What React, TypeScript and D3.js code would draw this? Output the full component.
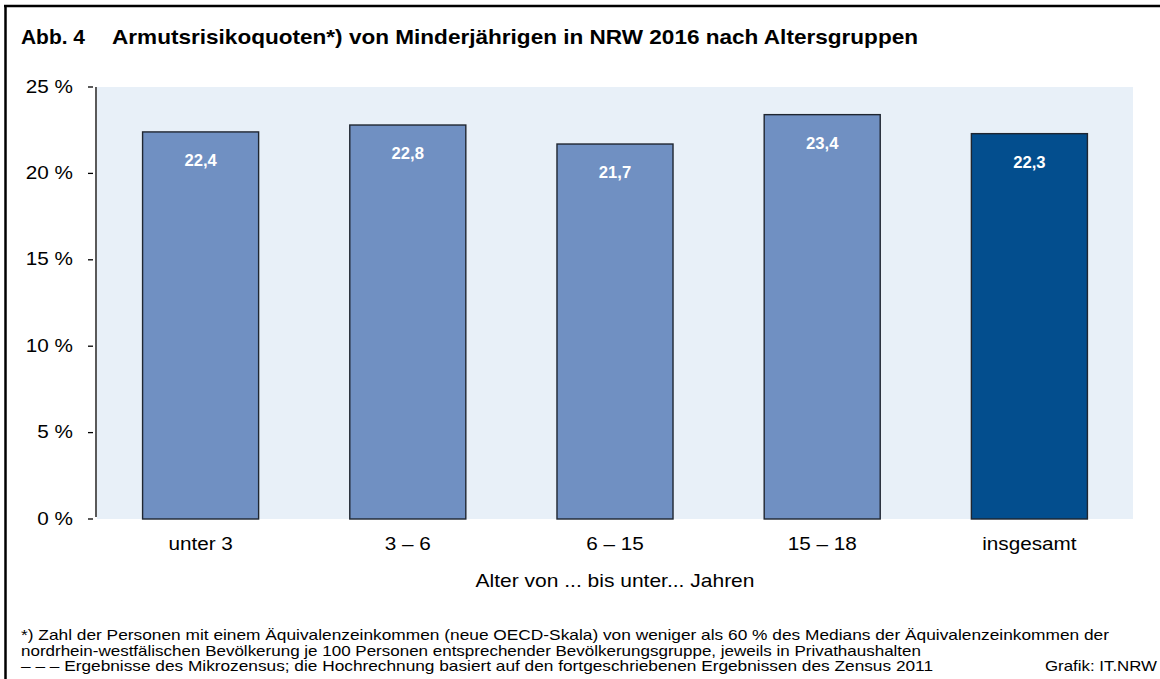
import React, { useEffect, useRef } from 'react';
import * as d3 from 'd3';

// Altersgruppen (Alter von ... bis unter ... Jahren)
const categories = ['unter 3', '3 – 6', '6 – 15', '15 – 18', 'insgesamt'];
// Armutsrisikoquoten in %
const values = [22.4, 22.8, 21.7, 23.4, 22.3];
const valueLabels = ['22,4', '22,8', '21,7', '23,4', '22,3'];
const yTicks = [0, 5, 10, 15, 20, 25];

const footnotes = [
  '*) Zahl der Personen mit einem Äquivalenzeinkommen (neue OECD-Skala) von weniger als 60 % des Medians der Äquivalenzeinkommen der',
  'nordrhein-westfälischen Bevölkerung je 100 Personen entsprechender Bevölkerungsgruppe, jeweils in Privathaushalten',
  '– – – Ergebnisse des Mikrozensus; die Hochrechnung basiert auf den fortgeschriebenen Ergebnissen des Zensus 2011',
];
// widths the footnote lines take in the original
const footnoteWidths = [1088, 900, 912];

const W = 1160;
const H = 679;
const FONT = '"Liberation Sans", Arial, sans-serif';
const SX = 1.12; // the original text runs a bit wider than it is tall

function BarChart() {
  const ref = useRef<SVGSVGElement>(null);

  useEffect(() => {
    const svg = d3.select(ref.current);
    svg.selectAll('*').remove();

    const margin = { top: 87, right: 27, bottom: 160, left: 97 };
    const width = W - margin.left - margin.right;
    const height = H - margin.top - margin.bottom;

    // frame (top and left edge only)
    svg.append('line').attr('x1', 4).attr('x2', W).attr('y1', 6).attr('y2', 6)
      .attr('stroke', '#000').attr('stroke-width', 2.5);
    svg.append('line').attr('x1', 5.5).attr('x2', 5.5).attr('y1', 5).attr('y2', H)
      .attr('stroke', '#000').attr('stroke-width', 2.5);

    // title
    svg.append('text')
      .attr('x', 21).attr('y', 44)
      .style('font-family', FONT)
      .style('font-size', '20.5px')
      .style('font-weight', 'bold')
      .attr('textLength', 64)
      .attr('lengthAdjust', 'spacingAndGlyphs')
      .text('Abb. 4');
    svg.append('text')
      .attr('x', 112).attr('y', 44)
      .style('font-family', FONT)
      .style('font-size', '20.5px')
      .style('font-weight', 'bold')
      .attr('textLength', 806)
      .attr('lengthAdjust', 'spacingAndGlyphs')
      .text('Armutsrisikoquoten*) von Minderjährigen in NRW 2016 nach Altersgruppen');

    const g = svg.append('g')
      .attr('transform', 'translate(' + margin.left + ',' + margin.top + ')');

    const x = d3.scaleBand()
      .domain(categories)
      .range([0, width])
      .paddingInner(0.44)
      .paddingOuter(0.22);

    const y = d3.scaleLinear()
      .domain([0, 25])
      .range([height, 0]);

    // plot background
    g.append('rect')
      .attr('x', 0).attr('y', 0)
      .attr('width', width).attr('height', height)
      .attr('fill', '#e8f0f8');

    // bars
    g.selectAll('.bar')
      .data(values)
      .enter().append('rect')
      .attr('class', 'bar')
      .attr('x', (d, i) => x(categories[i]) as number)
      .attr('y', d => y(d))
      .attr('width', x.bandwidth())
      .attr('height', d => height - y(d))
      .attr('fill', (d, i) => i === categories.length - 1 ? '#034e8e' : '#7090c2')
      .attr('stroke', '#1f2630')
      .attr('stroke-width', 1.4);

    // value labels
    g.selectAll('.val')
      .data(values)
      .enter().append('text')
      .attr('class', 'val')
      .attr('transform', (d, i) => 'translate(' + ((x(categories[i]) as number) + x.bandwidth() / 2) + ',' + (y(d) + 34) + ') scale(1.04,1)')
      .attr('text-anchor', 'middle')
      .style('font-family', FONT)
      .style('font-size', '16px')
      .style('font-weight', 'bold')
      .attr('fill', '#fff')
      .text((d, i) => valueLabels[i]);

    // y axis line
    g.append('line')
      .attr('x1', -1).attr('x2', -1)
      .attr('y1', 0).attr('y2', height - 2)
      .attr('stroke', '#000').attr('stroke-width', 1.3);

    // y ticks and labels
    const yt = g.selectAll('.ytick')
      .data(yTicks)
      .enter().append('g')
      .attr('class', 'ytick')
      .attr('transform', d => 'translate(0,' + y(d) + ')');
    yt.append('line')
      .attr('x1', -9).attr('x2', -4)
      .attr('stroke', '#000').attr('stroke-width', 1.3);
    yt.append('text')
      .attr('transform', 'translate(-24,5.5) scale(' + SX + ',1)')
      .attr('text-anchor', 'end')
      .style('font-family', FONT)
      .style('font-size', '18.5px')
      .attr('fill', '#000')
      .text(d => d + ' %');

    // x labels
    g.selectAll('.xlab')
      .data(categories)
      .enter().append('text')
      .attr('class', 'xlab')
      .attr('transform', d => 'translate(' + ((x(d) as number) + x.bandwidth() / 2) + ',' + (height + 31) + ') scale(' + SX + ',1)')
      .attr('text-anchor', 'middle')
      .style('font-family', FONT)
      .style('font-size', '18.5px')
      .attr('fill', '#000')
      .text(d => d);

    // x axis title
    g.append('text')
      .attr('x', width / 2 - 139.5)
      .attr('y', height + 68)
      .style('font-family', FONT)
      .style('font-size', '18.5px')
      .attr('fill', '#000')
      .attr('textLength', 279)
      .attr('lengthAdjust', 'spacingAndGlyphs')
      .text('Alter von ... bis unter... Jahren');

    // footnotes
    svg.selectAll('.fn')
      .data(footnotes)
      .enter().append('text')
      .attr('class', 'fn')
      .attr('x', 21)
      .attr('y', (d, i) => 640 + i * 15.5)
      .style('font-family', FONT)
      .style('font-size', '14.5px')
      .attr('fill', '#000')
      .attr('textLength', (d, i) => footnoteWidths[i])
      .attr('lengthAdjust', 'spacingAndGlyphs')
      .text(d => d);

    svg.append('text')
      .attr('x', 1045)
      .attr('y', 671)
      .style('font-family', FONT)
      .style('font-size', '14.5px')
      .attr('fill', '#000')
      .attr('textLength', 112)
      .attr('lengthAdjust', 'spacingAndGlyphs')
      .text('Grafik: IT.NRW');
  }, []);

  return (
    <svg ref={ref} width={W} height={H}
      style={{ position: 'absolute', left: 0, top: 0, background: '#fff' }} />
  );
}

export default function App() {
  return <BarChart />;
}
